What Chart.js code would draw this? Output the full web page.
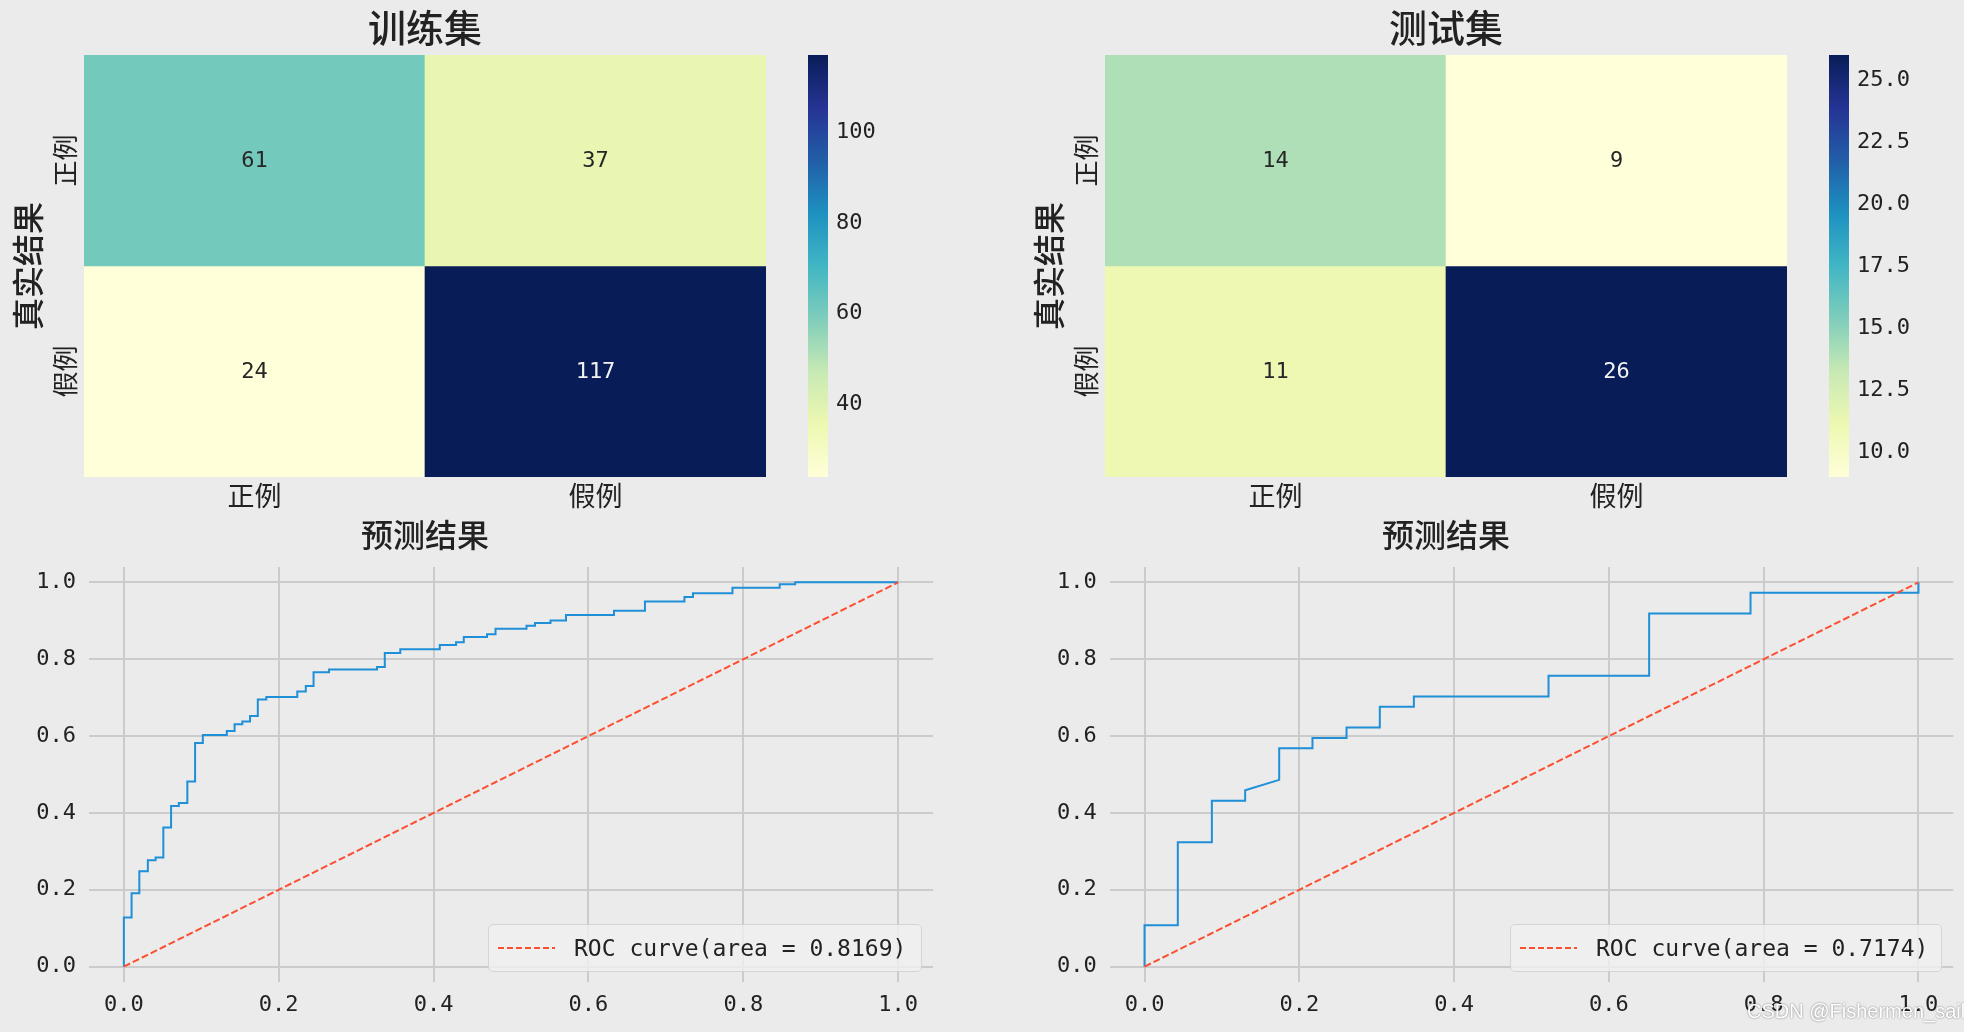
<!DOCTYPE html>
<html>
<head>
<meta charset="utf-8">
<script src="https://cdn.jsdelivr.net/npm/chart.js@4.4.1/dist/chart.umd.min.js"></script>
<style>
  html, body { margin: 0; padding: 0; background: #ebebeb; width: 1964px; height: 1032px; overflow: hidden; }
  canvas { position: absolute; }
  .legend { position: absolute; box-sizing: border-box; height: 48px; border: 1px solid #d4d4d4; border-radius: 5px;
            background: rgba(240,240,240,0.8); font: 23px "DejaVu Sans Mono", monospace; color: #222;
            display: flex; align-items: center; white-space: nowrap; }
  .legend svg { margin: 0 19px 0 9px; }
  .mark { position: absolute; left: 1747px; top: 1000px; font: 20px "Liberation Sans", sans-serif; color: #ffffff;
          text-shadow: 0 0 2px rgba(0,0,0,0.55); white-space: nowrap; }
</style>
</head>
<body>
<canvas id="hmTrain" width="780" height="557" style="left:0px;top:0px"></canvas>
<canvas id="cbTrain" width="100" height="557" style="left:800px;top:0px"></canvas>
<canvas id="hmTest" width="780" height="557" style="left:1021px;top:0px"></canvas>
<canvas id="cbTest" width="100" height="557" style="left:1821px;top:0px"></canvas>
<canvas id="rocTrain" width="960" height="492" style="left:0px;top:540px"></canvas>
<canvas id="rocTest" width="982" height="492" style="left:982px;top:540px"></canvas>
<div class="legend" id="legTrain" style="left:488px;top:924px;width:434px"></div>
<div class="legend" id="legTest" style="left:1510px;top:924px;width:432px"></div>
<div class="mark">CSDN @Fishermen_sail</div>

<script>
// confusion matrices: rows = 真实结果, cols = 预测结果
const trueLabels = ['正例', '假例'];
const predLabels = ['正例', '假例'];
const trainMatrix = [[61, 37], [24, 117]];
const testMatrix = [[14, 9], [11, 26]];
const trainBarTicks = [40, 60, 80, 100];
const testBarTicks = [10, 12.5, 15, 17.5, 20, 22.5, 25];

// ROC curves
const trainFpr = [0, 0, 0.010, 0.010, 0.020, 0.020, 0.031, 0.031, 0.041, 0.041, 0.051, 0.051, 0.061, 0.061,
  0.071, 0.071, 0.082, 0.082, 0.092, 0.092, 0.102, 0.102, 0.133, 0.133, 0.143, 0.143, 0.153, 0.153, 0.163, 0.163,
  0.173, 0.173, 0.184, 0.184, 0.224, 0.224, 0.235, 0.235, 0.245, 0.245, 0.265, 0.265, 0.327, 0.327, 0.337, 0.337,
  0.357, 0.357, 0.408, 0.408, 0.429, 0.429, 0.439, 0.439, 0.469, 0.469, 0.480, 0.480, 0.520, 0.520, 0.531, 0.531,
  0.551, 0.551, 0.571, 0.571, 0.633, 0.633, 0.673, 0.673, 0.724, 0.724, 0.735, 0.735, 0.786, 0.786, 0.847, 0.847,
  0.867, 0.867, 1.0];
const trainTpr = [0, 0.128, 0.128, 0.191, 0.191, 0.248, 0.248, 0.277, 0.277, 0.284, 0.284, 0.362, 0.362, 0.418,
  0.418, 0.426, 0.426, 0.482, 0.482, 0.582, 0.582, 0.603, 0.603, 0.613, 0.613, 0.631, 0.631, 0.638, 0.638, 0.652,
  0.652, 0.695, 0.695, 0.702, 0.702, 0.716, 0.716, 0.730, 0.730, 0.766, 0.766, 0.773, 0.773, 0.780, 0.780, 0.816,
  0.816, 0.826, 0.826, 0.837, 0.837, 0.844, 0.844, 0.858, 0.858, 0.865, 0.865, 0.879, 0.879, 0.887, 0.887, 0.894,
  0.894, 0.901, 0.901, 0.915, 0.915, 0.926, 0.926, 0.950, 0.950, 0.962, 0.962, 0.972, 0.972, 0.986, 0.986, 0.995,
  0.995, 1.0, 1.0];
const testFpr = [0, 0, 0.043, 0.043, 0.087, 0.087, 0.130, 0.130, 0.174, 0.174, 0.217, 0.217, 0.261, 0.261,
  0.304, 0.304, 0.348, 0.348, 0.522, 0.522, 0.652, 0.652, 0.783, 0.783, 1.0, 1.0];
const testTpr = [0, 0.108, 0.108, 0.324, 0.324, 0.432, 0.432, 0.459, 0.486, 0.568, 0.568, 0.595, 0.595, 0.622,
  0.622, 0.676, 0.676, 0.703, 0.703, 0.757, 0.757, 0.919, 0.919, 0.973, 0.973, 1.0];
const diagX = [0, 1];
const diagY = [0, 1];
const rocTicks = [0, 0.2, 0.4, 0.6, 0.8, 1.0];
const trainAuc = '0.8169';
const testAuc = '0.7174';

const CJK = '"Noto Sans CJK SC", sans-serif';
const MONO = '"DejaVu Sans Mono", "Liberation Mono", monospace';
const INK = '#222222';

// matplotlib YlGnBu
const ylgnbu = ['#ffffd9', '#edf8b1', '#c7e9b4', '#7fcdbb', '#41b6c4', '#1d91c0', '#225ea8', '#253494', '#081d58'];

function hexRgb(h) {
    return [1, 3, 5].map(i => parseInt(h.substr(i, 2), 16));
}

function cmapRgb(t) {
    t = Math.max(0, Math.min(1, t));
    const p = t * 8;
    const i = Math.min(7, Math.floor(p));
    const f = p - i;
    const a = hexRgb(ylgnbu[i]), b = hexRgb(ylgnbu[i + 1]);
    return a.map((v, k) => Math.round(v + (b[k] - v) * f));
}

function cmap(t) {
    const c = cmapRgb(t);
    return 'rgb(' + c.join(',') + ')';
}

function luminance(c) {
    const l = c.map(v => {
        v /= 255;
        return v <= 0.03928 ? v / 12.92 : Math.pow((v + 0.055) / 1.055, 2.4);
    });
    return 0.2126 * l[0] + 0.7152 * l[1] + 0.0722 * l[2];
}

Chart.defaults.animation = false;
Chart.defaults.responsive = false;
Chart.defaults.devicePixelRatio = 1;
Chart.defaults.color = INK;

// writes the count in the middle of every cell
const cellText = {
    id: 'cellText',
    afterDatasetsDraw(chart, args, opts) {
        const ctx = chart.ctx;
        ctx.save();
        ctx.font = '22px ' + MONO;
        ctx.textAlign = 'center';
        ctx.textBaseline = 'middle';
        chart.data.datasets.forEach((ds, r) => {
            chart.getDatasetMeta(r).data.forEach((bar, c) => {
                const v = opts.values[r][c];
                const rgb = cmapRgb((v - opts.vmin) / (opts.vmax - opts.vmin));
                ctx.fillStyle = luminance(rgb) > 0.408 ? '#262626' : '#f2f2f2';
                const p = bar.getProps(['x', 'y', 'base'], true);
                ctx.fillText(String(v), p.x, (p.y + p.base) / 2 + 1);
            });
        });
        ctx.restore();
    }
};

function heatmap(id, title, values) {
    const flat = values.flat();
    const vmin = Math.min(...flat), vmax = Math.max(...flat);
    new Chart(document.getElementById(id), {
        type: 'bar',
        plugins: [cellText],
        data: {
            labels: predLabels,
            datasets: trueLabels.map((name, r) => ({
                label: name,
                data: predLabels.map(() => [r, r + 1]),
                backgroundColor: values[r].map(v => cmap((v - vmin) / (vmax - vmin))),
                borderWidth: 0,
                barPercentage: 1,
                categoryPercentage: 1,
                grouped: false
            }))
        },
        options: {
            layout: { padding: { right: 14 } },
            plugins: {
                legend: { display: false },
                tooltip: { enabled: false },
                title: {
                    display: true, text: title, fullSize: false, color: INK,
                    font: { family: CJK, size: 38, weight: '500', lineHeight: 1.2 },
                    padding: { top: 5, bottom: 4.4 }
                },
                cellText: { values: values, vmin: vmin, vmax: vmax }
            },
            scales: {
                x: {
                    grid: { display: false, drawTicks: false },
                    border: { display: false },
                    ticks: { font: { family: CJK, size: 27 }, padding: 3 },
                    title: {
                        display: true, text: '预测结果', color: INK,
                        font: { family: CJK, size: 32, weight: '500', lineHeight: 1.2 },
                        padding: { top: 4, bottom: 2.8 }
                    },
                    afterFit: s => { s.height = 80; }
                },
                y: {
                    type: 'linear', min: 0, max: trueLabels.length, reverse: true,
                    grid: { display: false, drawTicks: false },
                    border: { display: false },
                    afterBuildTicks: s => { s.ticks = trueLabels.map((_, i) => ({ value: i + 0.5 })); },
                    ticks: {
                        callback: v => trueLabels[Math.floor(v)],
                        minRotation: 90, maxRotation: 90, crossAlign: 'center', padding: -7,
                        font: { family: CJK, size: 26 }
                    },
                    title: {
                        display: true, text: '真实结果', color: INK,
                        font: { family: CJK, size: 32, weight: '500', lineHeight: 1.2 },
                        padding: { top: 8.3, bottom: 0 }
                    },
                    afterFit: s => { s.width = 84; }
                }
            }
        }
    });
    return { vmin, vmax };
}

function colorbar(id, range, ticks, digits) {
    new Chart(document.getElementById(id), {
        type: 'bar',
        data: {
            labels: [''],
            datasets: [{
                data: [[range.vmin, range.vmax]],
                backgroundColor: ctx => {
                    const a = ctx.chart.chartArea;
                    if (!a) return null;
                    const g = ctx.chart.ctx.createLinearGradient(0, a.bottom, 0, a.top);
                    ylgnbu.forEach((c, i) => g.addColorStop(i / 8, c));
                    return g;
                },
                borderWidth: 0,
                barPercentage: 1,
                categoryPercentage: 1
            }]
        },
        options: {
            layout: { padding: { left: 8, top: 55, bottom: 80, right: 0 } },
            plugins: { legend: { display: false }, tooltip: { enabled: false } },
            scales: {
                x: { display: false },
                y: {
                    position: 'right', min: range.vmin, max: range.vmax,
                    grid: { display: false, drawTicks: false },
                    border: { display: false },
                    afterBuildTicks: s => { s.ticks = ticks.map(v => ({ value: v })); },
                    ticks: { callback: v => v.toFixed(digits), padding: 8, font: { family: MONO, size: 22 } },
                    afterFit: s => { s.width = 72; }
                }
            }
        }
    });
}

function rocChart(id, fpr, tpr, yWidth, rightPad) {
    const axis = (min, max) => ({
        type: 'linear', min: min, max: max,
        grid: { color: '#cbcbcb', lineWidth: 2, drawTicks: false },
        border: { display: false },
        afterBuildTicks: s => { s.ticks = rocTicks.map(v => ({ value: v })); },
        ticks: { callback: v => v.toFixed(1), font: { family: MONO, size: 22 } }
    });
    const x = axis(-0.045, 1.045);
    x.ticks.padding = 10;
    x.afterFit = s => { s.height = 50; };
    const y = axis(-0.04, 1.04);
    y.ticks.padding = 13;
    y.afterFit = s => { s.width = yWidth; };

    new Chart(document.getElementById(id), {
        type: 'scatter',
        data: {
            datasets: [{
                data: diagX.map((v, i) => ({ x: v, y: diagY[i] })),
                showLine: true, borderColor: '#fc4f30', borderWidth: 2, borderDash: [7, 3],
                pointRadius: 0
            }, {
                data: fpr.map((v, i) => ({ x: v, y: tpr[i] })),
                showLine: true, borderColor: '#1f8fd8', borderWidth: 2,
                pointRadius: 0
            }]
        },
        options: {
            layout: { padding: { top: 27, right: rightPad } },
            plugins: { legend: { display: false }, tooltip: { enabled: false } },
            scales: { x: x, y: y }
        }
    });
}

function legend(id, auc) {
    document.getElementById(id).innerHTML =
        '<svg width="57" height="4"><line x1="0" y1="2" x2="57" y2="2" stroke="#fc4f30" stroke-width="2" stroke-dasharray="6 3"/></svg>' +
        '<span>ROC curve(area = ' + auc + ')</span>';
}

const trainRange = heatmap('hmTrain', '训练集', trainMatrix);
const testRange = heatmap('hmTest', '测试集', testMatrix);
colorbar('cbTrain', trainRange, trainBarTicks, 0);
colorbar('cbTest', testRange, testBarTicks, 1);
rocChart('rocTrain', trainFpr, trainTpr, 89, 27);
rocChart('rocTest', testFpr, testTpr, 127.7, 10.7);
legend('legTrain', trainAuc);
legend('legTest', testAuc);
</script>
</body>
</html>
